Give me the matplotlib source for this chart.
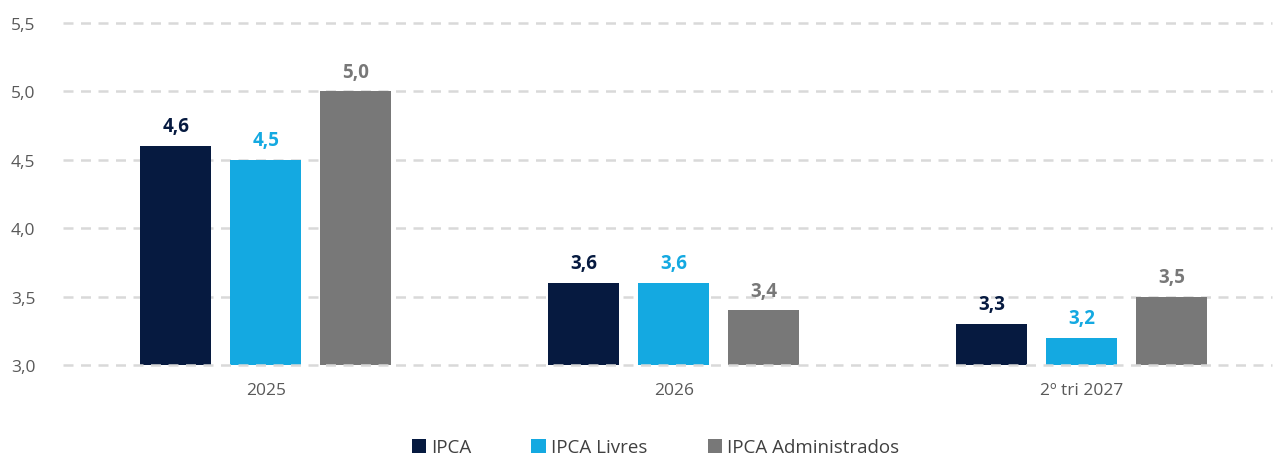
import matplotlib

matplotlib.use("Agg")
import matplotlib.pyplot as plt  # noqa: E402
import numpy as np  # noqa: E402

categories = ["2025", "2026", "2º tri 2027"]
series_names = ["IPCA", "IPCA Livres", "IPCA Administrados"]
ipca = [4.6, 3.6, 3.3]
ipca_livres = [4.5, 3.6, 3.2]
ipca_adm = [5.0, 3.4, 3.5]
y_ticks = [3.0, 3.5, 4.0, 4.5, 5.0, 5.5]

colors = ["#061A40", "#14A9E1", "#787878"]
label_colors = ["#061A40", "#14A9E1", "#787878"]

plt.rcParams.update({
    "font.family": ["Open Sans", "DejaVu Sans"],
    "font.size": 11,
})

fig = plt.figure(figsize=(12.76, 4.56), dpi=100)
ax = fig.add_axes([63 / 1276, 1 - 366 / 456, (1272 - 63) / 1276, (366 - 24) / 456])

x = np.arange(len(categories))
width = 0.174
step = 0.2206
for k, (vals, name) in enumerate(zip([ipca, ipca_livres, ipca_adm], series_names)):
    pos = x + (k - 1) * step
    ax.bar(pos, np.array(vals) - 3.0, width, bottom=3.0, color=colors[k], label=name, zorder=2)
    for px, v in zip(pos, vals):
        ax.annotate(f"{v:.1f}".replace(".", ","), (px, v), textcoords="offset points",
                    xytext=(0, 7), ha="center", va="bottom", fontsize=13.5,
                    fontweight="bold", color=label_colors[k])

ax.set_xlim(-0.4975, 2.466)
ax.set_ylim(3.0, 5.5)
ax.set_yticks(y_ticks)
ax.set_yticklabels([f"{t:.1f}".replace(".", ",") for t in y_ticks], color="#595959", fontsize=12.5)
ax.set_xticks(x)
ax.set_xticklabels(categories, color="#595959", fontsize=12.5)
ax.tick_params(length=0, axis="both")
ax.tick_params(axis="x", pad=12)
ax.tick_params(axis="y", pad=20)
for s in ax.spines.values():
    s.set_visible(False)
for t in y_ticks[1:]:
    ax.axhline(t, color="#D9D9D9", lw=1.8, ls=(0, (4, 3)), zorder=1, clip_on=False)
ax.axhline(3.0, color="#D9D9D9", lw=1.8, ls=(0, (4, 3)), zorder=3, clip_on=False)

ax.legend(loc="upper center", bbox_to_anchor=(0.49, -0.165), ncol=3, frameon=False,
          handlelength=0.75, handleheight=0.75, handletextpad=0.3, columnspacing=3.2,
          fontsize=13.5, labelcolor="#404040")

fig.savefig("out.png", dpi=100)
